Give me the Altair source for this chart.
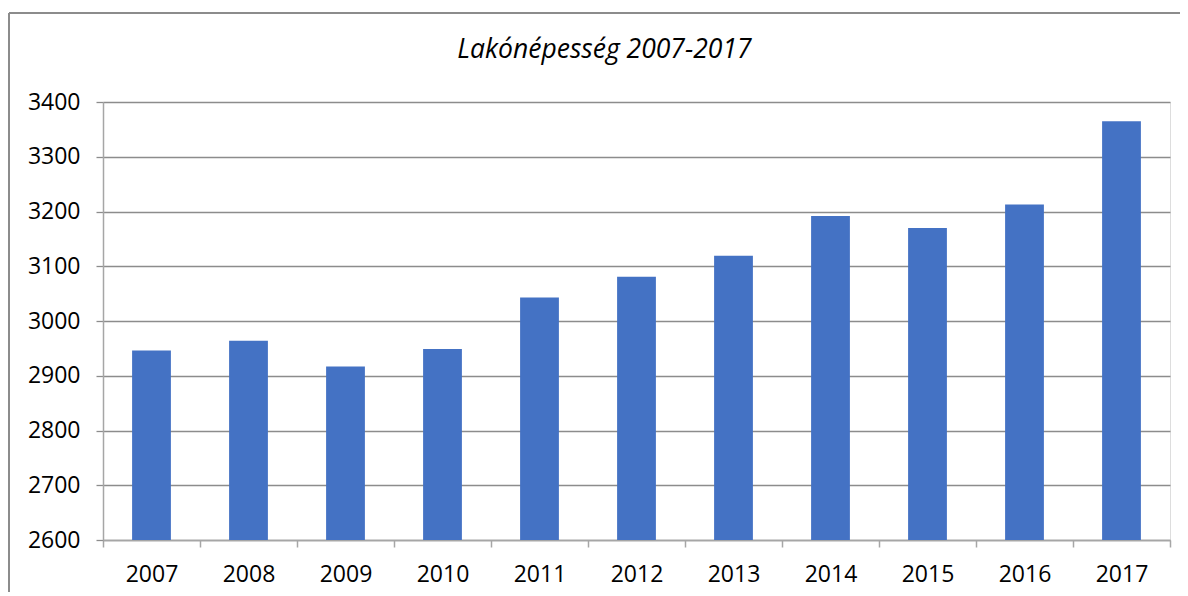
import altair as alt
import pandas as pd

years = ["2007", "2008", "2009", "2010", "2011", "2012", "2013", "2014", "2015", "2016", "2017"]
population = [2946, 2964, 2917, 2949, 3043, 3081, 3119, 3192, 3170, 3213, 3365]
y_ticks = [2600, 2700, 2800, 2900, 3000, 3100, 3200, 3300, 3400]
title_text = "Lakónépesség 2007-2017"

df = pd.DataFrame({"year": years, "value": population})

FONT = "Open Sans"
GRID = "#8c8c8c"
AXIS = "#a6a6a6"

bars = alt.Chart(df).mark_bar(
    color="#4472C4", width=alt.RelativeBandSize(0.4), clip=True
).encode(
    x=alt.X(
        "year:N",
        sort=years,
        title=None,
        scale=alt.Scale(paddingInner=0, paddingOuter=0),
        axis=alt.Axis(
            tickBand="extent",
            labelAngle=0,
            labelFont=FONT,
            labelFontSize=23,
            labelColor="#000000",
            labelPadding=16,
            tickSize=7,
            tickColor=AXIS,
            tickWidth=1.5,
            domainColor=AXIS,
            domainWidth=1.5,
            grid=False,
        ),
    ),
    y=alt.Y(
        "value:Q",
        title=None,
        scale=alt.Scale(domain=[2600, 3400], nice=False, zero=False),
        axis=alt.Axis(
            values=y_ticks,
            format="d",
            labelFont=FONT,
            labelFontSize=23,
            labelColor="#000000",
            labelPadding=16,
            tickSize=7,
            tickColor=GRID,
            tickWidth=1.3,
            domainColor=AXIS,
            domainWidth=1.5,
            grid=True,
            gridColor=GRID,
            gridWidth=1.3,
        ),
    ),
)

# outer chart frame (top and left edges)
frame_top = alt.Chart(df).mark_rule(color="#8c8c8c", strokeWidth=1.5).encode(
    x=alt.value(-94), x2=alt.value(1090), y=alt.value(-89)
)
frame_left = alt.Chart(df).mark_rule(color="#8c8c8c", strokeWidth=1.5).encode(
    x=alt.value(-94), y=alt.value(-89), y2=alt.value(500)
)

chart = alt.layer(frame_top, frame_left, bars).properties(
    width=1067,
    height=438,
    title=alt.TitleParams(
        text=title_text,
        font=FONT,
        fontSize=26.5,
        fontStyle="italic",
        fontWeight="normal",
        color="#000000",
        anchor="middle",
        frame="group",
        baseline="alphabetic",
        dx=-32,
        offset=-72,
    ),
    autosize=alt.AutoSizeParams(type="none"),
    padding={"left": 95, "top": 94, "right": 10, "bottom": 52},
).configure_view(stroke=None).configure(background="white")

chart.save("out.html", embed_options={"renderer": "svg", "actions": False})
